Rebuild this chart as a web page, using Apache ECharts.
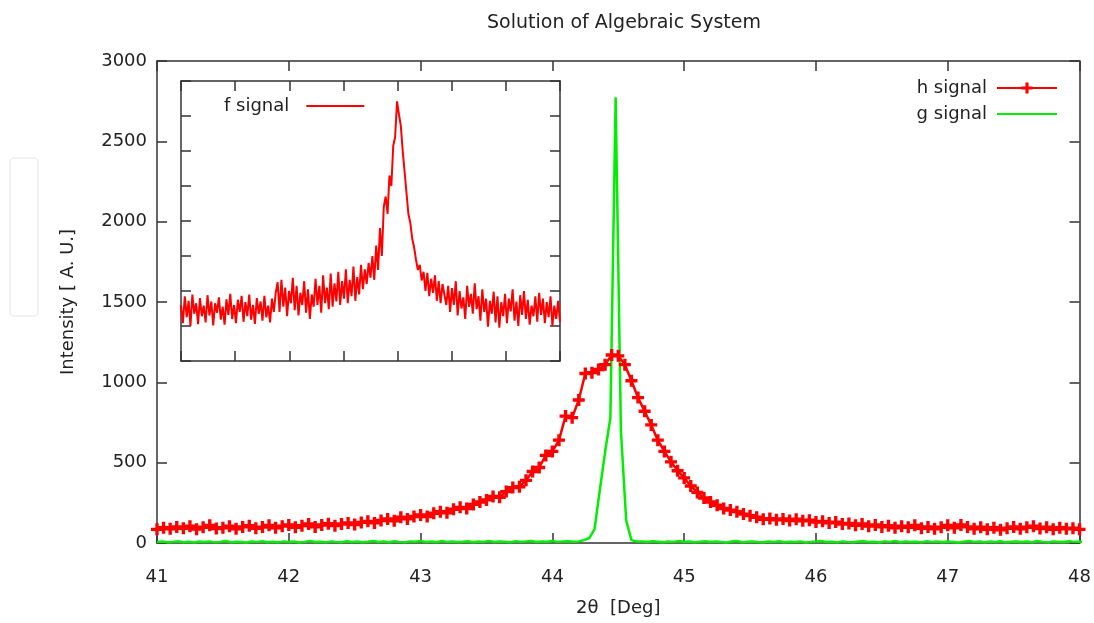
<!DOCTYPE html>
<html>
<head>
<meta charset="utf-8">
<title>Solution of Algebraic System</title>
<script src="https://cdn.jsdelivr.net/npm/echarts@6/dist/echarts.min.js"></script>
<style>
  html, body { margin: 0; padding: 0; background: #ffffff; }
  #main { width: 1094px; height: 623px; }
</style>
</head>
<body>
<div id="main"></div>
<script>
// 坐标轴刻度
const xTicks = [41, 42, 43, 44, 45, 46, 47, 48];
const yTicks = [0, 500, 1000, 1500, 2000, 2500, 3000];

// h signal: 41 ~ 48, 步长 0.05
const hStart = 41;
const hStep = 0.05;
const hSignal = [
  85, 95, 88, 100, 92, 105, 86, 98, 110, 90,
  95, 104, 88, 100, 108, 92, 99, 110, 95, 105,
  112, 98, 108, 118, 100, 112, 120, 108, 118, 125,
  115, 128, 135, 125, 140, 150, 138, 160, 150, 165,
  175, 165, 185, 195, 188, 210, 222, 215, 240, 255,
  268, 290, 285, 320, 345, 350, 390, 445, 470, 545,
  570, 640, 790, 780, 890, 1055, 1060, 1080, 1110, 1170,
  1165, 1110, 1010, 905, 820, 735, 640, 570, 505, 450,
  405, 355, 315, 280, 255, 235, 215, 205, 195, 180,
  170, 160, 148, 152, 145, 150, 140, 148, 138, 142,
  130, 135, 125, 130, 118, 122, 110, 118, 105, 112,
  100, 108, 95, 105, 98, 110, 92, 100, 88, 98,
  110, 95, 112, 100, 88, 98, 85, 95, 82, 92,
  100, 88, 98, 105, 90, 98, 85, 95, 88, 92,
  85
];

// g signal: 41 ~ 48, 步长 0.04
const gStart = 41;
const gStep = 0.04;
const gSignal = [
  6, 9, 4, 7, 11, 5, 8, 3, 9, 6, 10, 4, 7, 12, 5, 8, 6, 3, 9, 7,
  11, 5, 8, 4, 10, 6, 9, 3, 7, 12, 6, 8, 4, 10, 7, 5, 11, 6, 9, 4,
  8, 13, 6, 9, 5, 11, 7, 4, 10, 8, 12, 6, 9, 5, 13, 7, 10, 6, 8, 11,
  5, 9, 7, 12, 6, 10, 8, 4, 11, 7, 9, 13, 6, 10, 8, 12, 7, 9, 11, 8,
  10, 18, 31, 87, 330, 566, 780, 2775, 700, 140, 18, 10,
  9, 6, 11, 8, 5, 10, 7, 12, 6, 9, 4, 8, 11, 6, 10, 7, 3, 9, 12, 5,
  8, 10, 6, 4, 9, 7, 11, 5, 8, 6, 10, 3, 7, 9, 12, 6, 8, 4, 10, 7,
  5, 9, 11, 6, 8, 3, 10, 7, 12, 5, 9, 6, 8, 4, 11, 7, 10, 5, 9, 6,
  3, 8, 12, 7, 10, 5, 9, 6, 11, 4, 8, 10, 6, 9, 5, 12, 7, 4, 10, 8,
  6, 11, 7, 9, 5
];

// f signal (小图): 41 ~ 48, 步长 0.035
const fStart = 41;
const fStep = 0.035;
const fSignal = [
  160, 108, 185, 125, 172, 100, 190, 135, 165, 105,
  180, 128, 158, 110, 188, 130, 170, 102, 165, 138,
  182, 118, 155, 104, 176, 132, 192, 120, 160, 108,
  175, 140, 186, 112, 168, 128, 190, 118, 160, 106,
  180, 135, 170, 115, 186, 125, 158, 110, 178, 140,
  195,
  225, 140, 232, 155, 210, 128, 200, 165, 238, 145,
  215, 130, 195, 160, 228, 138, 205, 120, 190, 155,
  235, 160, 215, 138, 245, 165, 210, 148, 250, 155,
  222, 170, 255, 160, 228, 178, 262, 165, 232, 185,
  270, 172, 240, 190, 275,
  205, 262, 220, 280, 238, 300, 232, 330, 260, 380, 300, 440,
  470, 420, 530, 500, 615, 640, 742,
  705, 672, 600, 540, 480, 420, 395, 350, 325, 290, 260, 275,
  230, 255, 200, 252, 185, 235, 195, 245, 172, 228, 165, 220, 190, 160,
  215, 140, 208, 160, 228, 130, 200, 150, 182, 120,
  215, 155, 192, 135, 222, 148, 185, 115, 205, 140,
  178, 98, 172, 135, 198, 110, 185, 95, 168, 128,
  192, 108, 178, 142, 205, 115, 170, 100, 188, 132,
  200, 120, 175, 104, 158, 128, 185, 112, 195, 132,
  178, 108, 168, 125, 185, 100, 158, 120, 172, 112
];
const fYMax = 800;

const toPairs = (start, step, list) => list.map((v, i) => [+(start + i * step).toFixed(3), v]);

const FONT = 'DejaVu Sans';
const TEXT = '#222222';
const FRAME = '#333333';
// 加号标记
const plusPath = 'path://M3.6,0 H6.4 V3.6 H10 V6.4 H6.4 V10 H3.6 V6.4 H0 V3.6 H3.6 Z';

// 带内刻度的边框轴
const frameAxis = (extra) => Object.assign({
  type: 'value',
  axisLine: { show: true, onZero: false, lineStyle: { color: FRAME, width: 1.5 } },
  axisTick: { show: true, inside: true, length: 10, lineStyle: { color: FRAME, width: 1.5 } },
  axisLabel: { show: false },
  splitLine: { show: false },
}, extra);

const initChart = () => {
  const main = document.getElementById('main');
  const myChart = echarts.init(main, null, { renderer: 'canvas' });
  const options = {
    backgroundColor: '#ffffff',
    animation: false,
    textStyle: { fontFamily: FONT },
    title: {
      text: 'Solution of Algebraic System',
      left: 619,
      top: 9,
      textAlign: 'center',
      textStyle: { fontFamily: FONT, fontSize: 19, fontWeight: 'normal', color: TEXT },
    },
    legend: [
      {
        // 主图图例
        data: [
          { name: 'h signal' },
          { name: 'g signal', itemStyle: { opacity: 0 } },
        ],
        orient: 'vertical',
        right: 31,
        top: 74,
        align: 'right',
        itemWidth: 60,
        itemHeight: 14,
        itemGap: 8,
        z: 10,
        textStyle: { fontFamily: FONT, fontSize: 18, color: TEXT, padding: [0, 5, 0, 0] },
      },
      {
        // 小图图例
        data: [{ name: 'f signal', itemStyle: { opacity: 0 } }],
        left: 219,
        top: 92,
        align: 'right',
        itemWidth: 58,
        itemHeight: 14,
        z: 10,
        textStyle: { fontFamily: FONT, fontSize: 18, color: TEXT, padding: [0, 12, 0, 0] },
      },
    ],
    grid: [
      { left: 157, right: 14, top: 61, bottom: 80, show: false },
      { left: 181, top: 81, width: 379, height: 280, show: true, backgroundColor: '#ffffff', borderWidth: 0, z: 5 },
    ],
    xAxis: [
      frameAxis({
        gridIndex: 0, min: xTicks[0], max: xTicks[xTicks.length - 1], interval: 1, position: 'bottom',
        axisLabel: { show: true, margin: 25, color: TEXT, fontFamily: FONT, fontSize: 18 },
        name: '2θ  [Deg]', nameLocation: 'middle', nameGap: 56,
        nameTextStyle: { color: TEXT, fontFamily: FONT, fontSize: 18 },
      }),
      frameAxis({ gridIndex: 0, min: xTicks[0], max: xTicks[xTicks.length - 1], interval: 1, position: 'top' }),
      frameAxis({ gridIndex: 1, min: 41, max: 48, interval: 1, position: 'bottom', z: 6 }),
      frameAxis({ gridIndex: 1, min: 41, max: 48, interval: 1, position: 'top', z: 6 }),
    ],
    yAxis: [
      frameAxis({
        gridIndex: 0, min: yTicks[0], max: yTicks[yTicks.length - 1], interval: 500, position: 'left',
        axisLabel: { show: true, margin: 10, color: TEXT, fontFamily: FONT, fontSize: 18, formatter: (v) => String(v) },
        name: 'Intensity [ A. U.]', nameLocation: 'middle', nameGap: 80, nameRotate: 90,
        nameTextStyle: { color: TEXT, fontFamily: FONT, fontSize: 18 },
      }),
      frameAxis({ gridIndex: 0, min: yTicks[0], max: yTicks[yTicks.length - 1], interval: 500, position: 'right' }),
      frameAxis({ gridIndex: 1, min: 0, max: fYMax, interval: 100, position: 'left', z: 6 }),
      frameAxis({ gridIndex: 1, min: 0, max: fYMax, interval: 100, position: 'right', z: 6 }),
    ],
    series: [
      {
        name: 'h signal',
        type: 'line',
        xAxisIndex: 0,
        yAxisIndex: 0,
        data: toPairs(hStart, hStep, hSignal),
        symbol: plusPath,
        symbolSize: 12,
        showAllSymbol: true,
        lineStyle: { color: '#ff0000', width: 2.5 },
        itemStyle: { color: '#ff0000' },
        z: 3,
      },
      {
        name: 'g signal',
        type: 'line',
        xAxisIndex: 0,
        yAxisIndex: 0,
        data: toPairs(gStart, gStep, gSignal),
        symbol: 'none',
        lineStyle: { color: '#00ee00', width: 2.5 },
        itemStyle: { color: '#00ee00' },
        z: 2,
      },
      {
        name: 'f signal',
        type: 'line',
        xAxisIndex: 2,
        yAxisIndex: 2,
        data: toPairs(fStart, fStep, fSignal),
        symbol: 'none',
        lineStyle: { color: '#ff0000', width: 2 },
        itemStyle: { color: '#ff0000' },
        z: 6,
      },
    ],
    graphic: [
      {
        // 左侧的浅色方框
        type: 'rect',
        shape: { x: 10, y: 158, width: 28, height: 158, r: 4 },
        style: { fill: '#ffffff', stroke: '#eeeeee', lineWidth: 1.5 },
      },
    ],
  };
  myChart.setOption(options);
  window.onresize = function () {
    myChart.resize();
  };
};
initChart();
</script>
</body>
</html>
